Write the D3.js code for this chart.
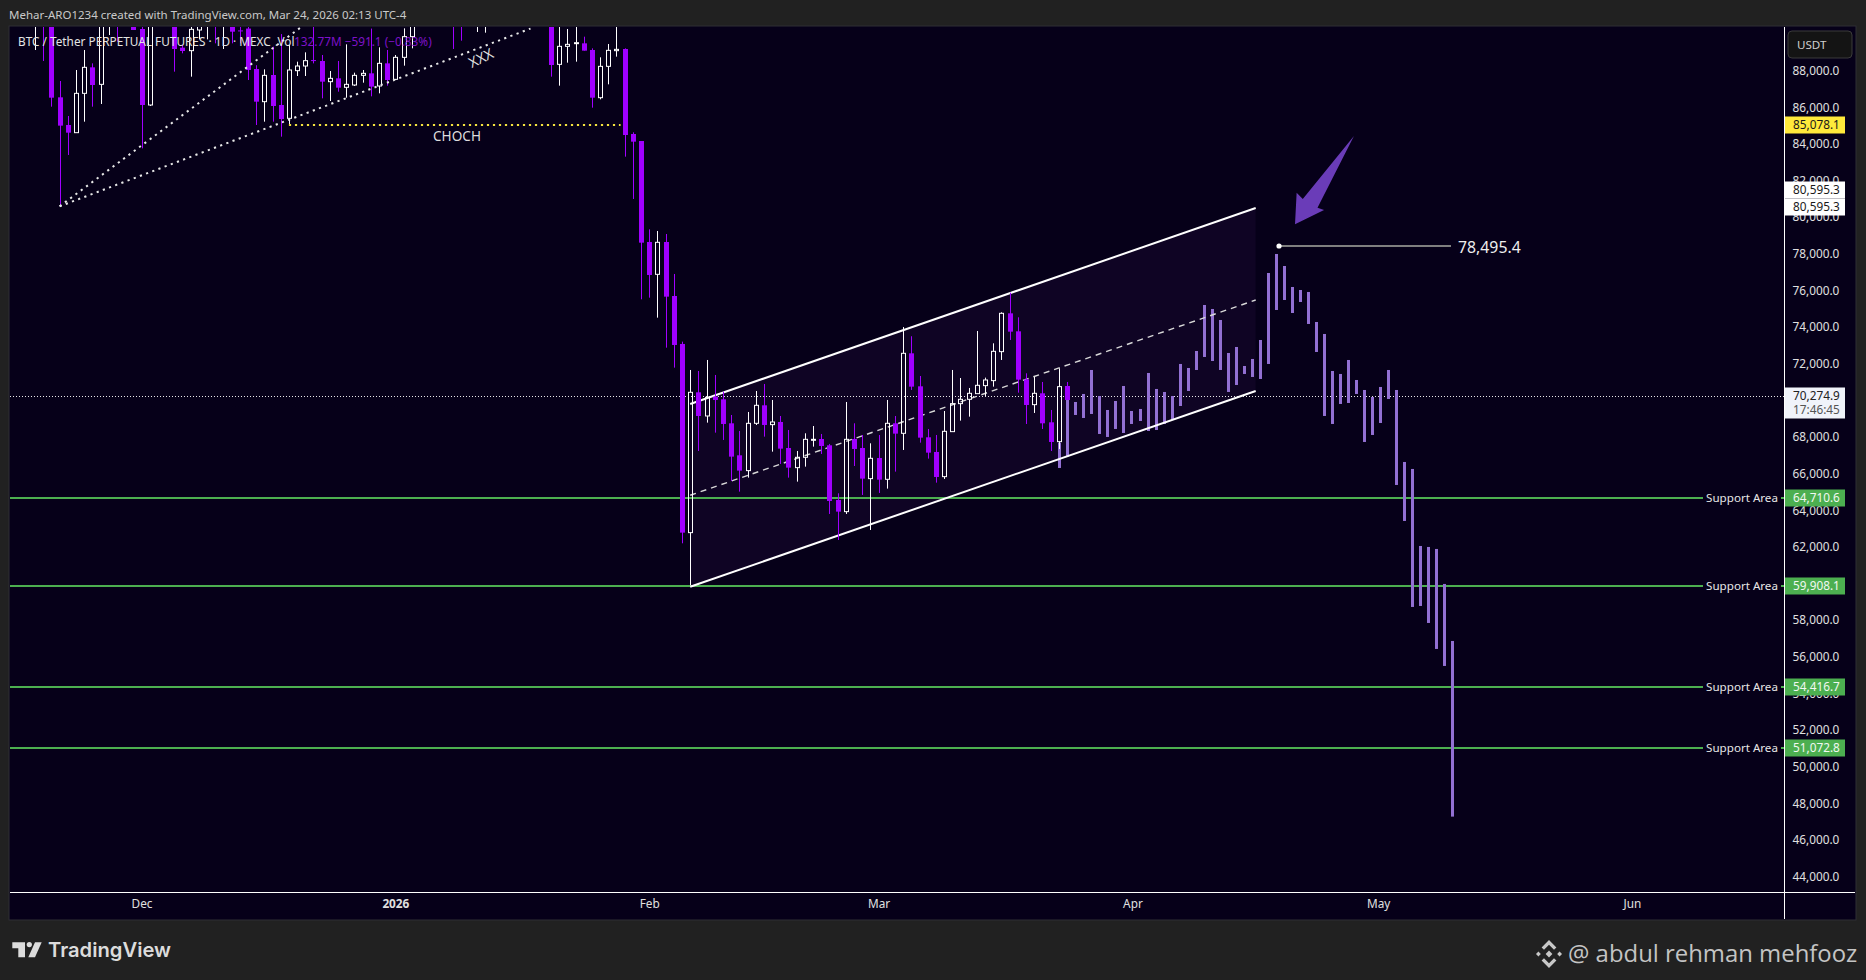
<!DOCTYPE html>
<html>
<head>
<meta charset="utf-8">
<script src="https://cdn.jsdelivr.net/npm/d3@7"></script>
<style>
  html, body { margin: 0; padding: 0; background: #212121; overflow: hidden; }
  svg { display: block; }
  text { font-family: "Noto Sans", sans-serif; }
</style>
</head>
<body>
<div id="chart"></div>
<script>
// Daily candles, first bar is 18 Nov 2025. Bars above the top of the pane are rough guesses.
const firstBar = Date.UTC(2025, 10, 18);
const opens = [91500,92500,91000,86546,85035,84616,86764,88184,87255,91000,92000,91000,91000,
  90277,86127,91400,93000,92000,89257,89094,90222,91000,92000,91000,91000,90200,90300,88093,86309,87765,86127,85399,88002,88256,88580,88529,87401,87583,87092,87219,87747,87856,87164,88402,87528,88730,89858,
  90800,91500,93000,93500,92500,91500,90800,90800,90600,91300,92000,93500,95500,96500,95000,93000,91500,88347,89330,89494,89494,89130,86527,88238,89094,89185,84544,84161,78647,76881,78647,75698,
  73078,62776,70439,69146,70202,70056,68746,66999,66162,68746,69729,68673,68819,67399,66325,66890,67872,67890,67545,64560,63923,67890,67399,65725,66853,65688,68746,68200,72568,70766,67982,67181,
  65834,68291,69820,70056,70366,70803,71076,72659,74752,73769,71148,69765,70384,68801,67745,70784];
const highs = [93000,93500,92000,87437,85526,88038,89130,88402,91800,92000,92300,91500,91500,
  91000,92000,93500,94000,92500,89400,90800,91500,92500,92500,92800,91500,90800,90800,88300,88074,89312,90000,89403,88493,89003,90400,88857,87983,88529,89439,87892,88038,90300,89276,89130,88857,90313,91500,
  92000,93500,94500,94000,93500,92000,92000,92500,91900,92500,94000,96000,97500,97000,95500,93500,92000,90800,90277,90800,89858,89221,88730,89458,90768,89221,84635,84161,79338,79247,79084,76900,
  73205,71658,71603,72204,71385,70475,69201,68327,69365,70511,70894,70020,69146,68382,67235,68200,68600,68164,67618,64924,69911,68746,68109,67654,68109,70020,69146,74000,73500,71330,68437,68109,
  69419,71658,71221,70675,73787,71240,73114,74807,75880,74534,71476,71294,71003,69474,71749,71003];
const lows = [89130,88530,86036,80595,83397,84616,85217,86036,86182,89949,89585,90400,90222,
  83760,86072,90800,91800,87947,88950,87674,89712,89712,89494,89185,89494,89494,87492,85035,85217,85217,84398,85035,87710,87710,88400,86491,86345,86855,86527,87164,87346,86600,86764,87183,87492,88275,89221,
  90600,91000,92500,91000,89185,89640,90500,90113,90076,90900,91500,93000,95000,94500,92500,91200,87674,87183,88438,88493,89094,85981,86436,87255,88766,83306,80995,75516,75607,74515,72877,71785,
  62194,59908,67235,68782,68236,67836,65597,65015,65780,68655,68018,67199,66526,65780,65561,66380,67472,67072,63796,62376,63796,66416,64833,62922,64942,65179,66107,67290,70566,67690,66817,65506,
  65707,68291,68892,69110,70366,70238,70748,72204,73296,70420,68710,69310,68437,67235,67345,70020];
const closes = [92500,91000,86527,85000,84616,86764,88184,87219,91000,91500,91000,90700,90222,
  86127,91400,93000,92000,89185,89075,90258,91000,92000,91000,92000,90130,90168,88038,86309,87747,86072,85362,88038,88256,88548,88530,87401,87583,87073,87255,87747,87856,87128,88402,87492,88730,89858,90800,
  91500,93000,93500,92000,90600,90700,91500,91900,91300,92000,93500,95500,96500,95000,93000,91500,88311,89330,89439,89530,89094,86527,88238,89112,89166,84489,84125,78610,76845,78629,75662,73023,
  62776,70439,69146,70166,70020,68710,66926,66162,68746,69729,68655,68819,67363,66325,66890,67872,67872,67508,64505,63923,67872,67345,65725,66835,65670,68746,68182,72568,70748,67963,67144,65816,
  68309,69820,70056,70384,70821,71112,72677,74752,73751,71130,69747,70384,68746,67727,70748,70020];

// Projected bars drawn after the last candle
const ghostHighs = [67690,70020,69911,70348,71658,70238,69474,69965,70784,69419,69529,71494,70621,70457,70238,71986,71767,72695,75207,74989,74388,72586,72914,71876,72259,
  73296,76954,77992,77336,76190,76026,75917,74279,73624,71603,71440,72204,71112,70566,70184,70730,71658,70566,66635,66253,62048,61994,61885,59974,56861];
const ghostLows = [66307,66926,69201,69037,69256,68164,68000,68437,68218,68710,68873,68327,68382,68710,68928,69692,70511,71658,72368,72149,71658,70457,70839,71440,71276,
  71167,71986,74934,75480,74770,75371,74170,72641,69146,68710,69802,69856,70348,67727,68109,68764,70075,65379,63413,58718,58772,57844,56425,55496,47270];

const priceTicks = d3.range(44000, 88001, 2000);
const monthTicks = [Date.UTC(2025,11,1), Date.UTC(2026,0,1), Date.UTC(2026,1,1), Date.UTC(2026,2,1), Date.UTC(2026,3,1), Date.UTC(2026,4,1), Date.UTC(2026,5,1)];
const monthLabels = ['Dec', '2026', 'Feb', 'Mar', 'Apr', 'May', 'Jun'];

const supportLevels = [64710.6, 59908.1, 54416.7, 51072.8];
const supportLabels = ['64,710.6', '59,908.1', '54,416.7', '51,072.8'];

// Channel, in days after 1 Dec 2025
const channelDays = [67, 136.05];
const channelTop = [69802, 80500];
const channelMid = [64816, 75480];
const channelBottom = [59820, 70512];

const chochDays = [18, 58.5];
const chochPrice = 85078.1;
const lastPrice = 70274.9;
const peakPrice = 78495.4;
const peakDays = [138.9, 159.9];

// Dotted trend lines from the November low: [day, price]
const trendStart = [-10, 80595.3];
const trendEnds = [[19.4, 90350], [47.5, 90300]];

const arrowDays = [148.05, 143.6, 144.4, 140.85, 141.05, 141.8];
const arrowPrices = [84435, 80520, 80394, 79613, 81339, 80995];

const W = 1866, H = 980;
const pane = { left: 10, right: 1855, top: 27, bottom: 919, axisX: 1784.5, axisY: 892.5 };
const frameColor = '#212121', paneColor = '#060019', borderColor = '#2f2e35';
const downColor = '#a000ff', upColor = '#ffffff', ghostColor = '#9270d3', green = '#4caf50';

const svg = d3.select('#chart').append('svg').attr('width', W).attr('height', H);

const x = d3.scaleUtc().domain([monthTicks[0], monthTicks[6]]).range([141.5, 1632]);
const y = d3.scaleLinear().domain([88000, 44000]).range([70.7, 876.5]);
const dayX = d => x(monthTicks[0] + d * 864e5);
const barX = i => Math.round(x(firstBar + i * 864e5)) + 0.5;
const ghostX = d3.scaleLinear().domain([0, ghostHighs.length - 1]).range([1059.3, 1452.3]);
// horizontal levels land about a pixel below the candle grid
const levelY = p => Math.round(y(p) + 0.8);

const candleData = opens.map((open, i) => ({ i, open, high: highs[i], low: lows[i], close: closes[i] }));

// Frame and pane
svg.append('rect').attr('width', W).attr('height', H).attr('fill', frameColor);
svg.append('rect')
    .attr('x', pane.left - 1).attr('y', pane.top - 1)
    .attr('width', pane.right - pane.left + 2).attr('height', pane.bottom - pane.top + 2)
    .attr('fill', paneColor).attr('stroke', borderColor).attr('stroke-width', 1);

svg.append('text')
    .attr('x', 9).attr('y', 15).attr('dy', '0.35em')
    .style('font-size', '11.5px').style('fill', '#c9c9c9')
    .text('Mehar-ARO1234 created with TradingView.com, Mar 24, 2026 02:13 UTC-4');

svg.append('clipPath').attr('id', 'plot-clip').append('rect')
    .attr('x', pane.left).attr('y', pane.top)
    .attr('width', pane.axisX - pane.left).attr('height', pane.axisY - pane.top);

const plot = svg.append('g').attr('clip-path', 'url(#plot-clip)');

// Channel fill
const band = d3.area().x(d => dayX(d.day)).y0(d => y(d.low)).y1(d => y(d.high));
plot.append('path')
    .attr('d', band(channelDays.map((day, i) => ({ day, low: channelBottom[i], high: channelTop[i] }))))
    .attr('fill', '#0f0424');

// Support lines
plot.selectAll('.support')
    .data(supportLevels)
    .enter()
    .append('line')
    .attr('class', 'support')
    .attr('x1', pane.left).attr('x2', 1703)
    .attr('y1', d => levelY(d)).attr('y2', d => levelY(d))
    .attr('stroke', green).attr('stroke-width', 2);

plot.selectAll('.support-end')
    .data(supportLevels)
    .enter()
    .append('line')
    .attr('class', 'support-end')
    .attr('x1', 1781).attr('x2', pane.axisX)
    .attr('y1', d => levelY(d)).attr('y2', d => levelY(d))
    .attr('stroke', green).attr('stroke-width', 2);

plot.selectAll('.support-label')
    .data(supportLevels)
    .enter()
    .append('text')
    .attr('class', 'support-label')
    .attr('x', 1742).attr('y', d => levelY(d)).attr('dy', '0.35em')
    .attr('text-anchor', 'middle')
    .style('font-size', '11.6px').style('fill', '#e6e6e6')
    .text('Support Area');

// Last price line
plot.append('line')
    .attr('x1', pane.left).attr('x2', pane.axisX)
    .attr('y1', levelY(lastPrice) + 0.5).attr('y2', levelY(lastPrice) + 0.5)
    .attr('stroke', '#e8e8e8').attr('stroke-width', 1).attr('stroke-dasharray', '1 2');

// Projected bars
plot.selectAll('.ghost')
    .data(ghostHighs)
    .enter()
    .append('rect')
    .attr('class', 'ghost')
    .attr('x', (d, i) => Math.round(ghostX(i)) - 1)
    .attr('y', d => y(d))
    .attr('width', 3)
    .attr('height', (d, i) => y(ghostLows[i]) - y(d))
    .attr('fill', ghostColor);

// Channel lines
const line = d3.line().x(d => dayX(d[0])).y(d => y(d[1]));
plot.append('path')
    .attr('d', line(channelDays.map((d, i) => [d, channelTop[i]])))
    .attr('stroke', '#fff').attr('stroke-width', 2).attr('fill', 'none');
plot.append('path')
    .attr('d', line(channelDays.map((d, i) => [d, channelBottom[i]])))
    .attr('stroke', '#fff').attr('stroke-width', 2).attr('fill', 'none');
plot.append('path')
    .attr('d', line(channelDays.map((d, i) => [d, channelMid[i]])))
    .attr('stroke', '#d8d8d8').attr('stroke-width', 1.4).attr('stroke-dasharray', '6 5').attr('fill', 'none');

// Candles
const candles = plot.selectAll('.candle')
    .data(candleData)
    .enter()
    .append('g')
    .attr('class', 'candle');

const downCandles = candles.filter(d => d.close < d.open);
const upCandles = candles.filter(d => d.close >= d.open);

downCandles.append('line')
    .attr('x1', d => barX(d.i)).attr('x2', d => barX(d.i))
    .attr('y1', d => y(d.high)).attr('y2', d => y(d.low))
    .attr('stroke', downColor).attr('stroke-width', 1);

downCandles.append('rect')
    .attr('x', d => barX(d.i) - 2.5)
    .attr('y', d => y(d.open))
    .attr('width', 5)
    .attr('height', d => Math.max(1, y(d.close) - y(d.open)))
    .attr('fill', downColor);

// up bars are hollow so lines show through, wick is split in two
upCandles.append('line')
    .attr('x1', d => barX(d.i)).attr('x2', d => barX(d.i))
    .attr('y1', d => y(d.high)).attr('y2', d => y(d.close))
    .attr('stroke', upColor).attr('stroke-width', 1);

upCandles.append('line')
    .attr('x1', d => barX(d.i)).attr('x2', d => barX(d.i))
    .attr('y1', d => y(d.open)).attr('y2', d => y(d.low))
    .attr('stroke', upColor).attr('stroke-width', 1);

upCandles.append('rect')
    .attr('x', d => barX(d.i) - 2)
    .attr('y', d => y(d.close))
    .attr('width', 4)
    .attr('height', d => Math.max(1, y(d.open) - y(d.close)))
    .attr('fill', 'none')
    .attr('stroke', upColor)
    .attr('stroke-width', 1);

// Dotted trend lines and CHOCH
trendEnds.forEach(end => {
    plot.append('path')
        .attr('d', line([trendStart, end]))
        .attr('stroke', '#e8e8e8').attr('stroke-width', 2).attr('stroke-dasharray', '2.2 4.4').attr('fill', 'none');
});

plot.append('line')
    .attr('x1', dayX(chochDays[0])).attr('x2', dayX(chochDays[1]))
    .attr('y1', levelY(chochPrice)).attr('y2', levelY(chochPrice))
    .attr('stroke', '#f3e23f').attr('stroke-width', 2).attr('stroke-dasharray', '2.2 3.8');

plot.append('text')
    .attr('x', 457).attr('y', 136).attr('dy', '0.35em')
    .attr('text-anchor', 'middle')
    .style('font-size', '13.6px').style('fill', '#dddddd')
    .text('CHOCH');

plot.append('text')
    .attr('transform', 'translate(481,58) rotate(-26)')
    .attr('dy', '0.35em')
    .attr('text-anchor', 'middle')
    .style('font-size', '14.5px').style('fill', '#dddddd')
    .text('XXX');

// Arrow and peak callout
plot.append('polygon')
    .attr('points', arrowDays.map((d, i) => `${dayX(d)},${y(arrowPrices[i])}`).join(' '))
    .attr('fill', '#6a3cb8');

plot.append('line')
    .attr('x1', dayX(peakDays[0])).attr('x2', dayX(peakDays[1]))
    .attr('y1', levelY(peakPrice)).attr('y2', levelY(peakPrice))
    .attr('stroke', '#7f7f7f').attr('stroke-width', 2);

plot.append('circle')
    .attr('cx', dayX(peakDays[0])).attr('cy', levelY(peakPrice)).attr('r', 2.6)
    .attr('fill', '#fff');

plot.append('text')
    .attr('x', 1458).attr('y', levelY(peakPrice) + 1).attr('dy', '0.35em')
    .style('font-size', '15.8px').style('fill', '#eeeeee')
    .text(d3.format(',.1f')(peakPrice));

// Legend line sits over the candles
plot.append('text')
    .attr('x', 18).attr('y', 42).attr('dy', '0.35em')
    .style('font-size', '11.8px').style('fill', '#e4e4e4')
    .text('BTC / Tether PERPETUAL FUTURES · 1D · MEXC');
plot.append('text')
    .attr('x', 275).attr('y', 42).attr('dy', '0.35em')
    .style('font-size', '11.8px').style('fill', '#e4e4e4')
    .text('.Vol');
plot.append('text')
    .attr('x', 294).attr('y', 42).attr('dy', '0.35em')
    .style('font-size', '11.8px').style('fill', '#7e12c8')
    .text('132.77M  −591.1 (−0.83%)');

// Axes
const yAxis = svg.append('g')
    .attr('transform', `translate(${pane.axisX},0)`)
    .call(d3.axisRight(y).tickValues(priceTicks).tickFormat(d3.format(',.1f')).tickSize(0).tickPadding(8));
yAxis.select('.domain').remove();
yAxis.selectAll('text').style('font-size', '11.8px').style('font-family', '"Noto Sans", sans-serif').style('fill', '#e0e0e0');

const xAxis = svg.append('g')
    .attr('transform', `translate(0,${pane.axisY})`)
    .call(d3.axisBottom(x).tickValues(monthTicks).tickFormat((d, i) => monthLabels[i]).tickSize(0).tickPadding(7));
xAxis.select('.domain').remove();
xAxis.selectAll('text')
    .style('font-size', '11.8px').style('font-family', '"Noto Sans", sans-serif').style('fill', '#e0e0e0')
    .style('font-weight', (d, i) => monthLabels[i] === '2026' ? 700 : 400);

svg.append('line')
    .attr('x1', pane.left).attr('x2', pane.right)
    .attr('y1', pane.axisY).attr('y2', pane.axisY)
    .attr('stroke', '#fff').attr('stroke-width', 1);
svg.append('line')
    .attr('x1', pane.axisX).attr('x2', pane.axisX)
    .attr('y1', pane.top).attr('y2', pane.bottom)
    .attr('stroke', '#fff').attr('stroke-width', 1);

// Unit box
svg.append('rect')
    .attr('x', 1788).attr('y', 31).attr('width', 64).attr('height', 27).attr('rx', 4)
    .attr('fill', '#141414').attr('stroke', '#3a3a3a');
svg.append('text')
    .attr('x', 1797).attr('y', 45).attr('dy', '0.35em')
    .style('font-size', '11.6px').style('fill', '#cfcfcf')
    .text('USDT');

// Price tags
function priceTag(price, label, bg, fg, offset = 0) {
    const cy = levelY(price) + offset;
    svg.append('rect')
        .attr('x', 1785).attr('y', cy - 8.5).attr('width', 60).attr('height', 17)
        .attr('fill', bg);
    svg.append('text')
        .attr('x', 1793).attr('y', cy).attr('dy', '0.35em')
        .style('font-size', '11.8px').style('fill', fg)
        .text(label);
}

priceTag(chochPrice, '85,078.1', '#ffe93b', '#1a1a1a');
priceTag(80595.3, '80,595.3', '#ffffff', '#1a1a1a', -17);
priceTag(80595.3, '80,595.3', '#ffffff', '#1a1a1a');
supportLevels.forEach((level, i) => priceTag(level, supportLabels[i], green, '#f1f8f1'));

svg.append('rect')
    .attr('x', 1785).attr('y', levelY(lastPrice) - 8.5).attr('width', 60).attr('height', 31)
    .attr('fill', '#f0f3fa');
svg.append('text')
    .attr('x', 1793).attr('y', levelY(lastPrice)).attr('dy', '0.35em')
    .style('font-size', '11.8px').style('fill', '#222')
    .text(d3.format(',.1f')(lastPrice));
svg.append('text')
    .attr('x', 1793).attr('y', levelY(lastPrice) + 14).attr('dy', '0.35em')
    .style('font-size', '11.8px').style('fill', '#555')
    .text('17:46:45');

// Footer
const logo = svg.append('g').attr('fill', '#dcdcdc');
logo.append('path').attr('d', 'M12.3 942.3H25V957.3H18.3V948.3H12.3Z');
logo.append('circle').attr('cx', 29.3).attr('cy', 944.6).attr('r', 2.6);
logo.append('path').attr('d', 'M35 942.3H41.7L35 957.3H28.3Z');
svg.append('text')
    .attr('x', 48).attr('y', 950).attr('dy', '0.35em')
    .style('font-family', 'Inter, sans-serif').style('font-size', '20.2px').style('font-weight', 600)
    .style('fill', '#dcdcdc')
    .text('TradingView');

const mark = svg.append('g').attr('transform', 'translate(1549,954)').attr('fill', '#c8c8c8');
mark.append('path').attr('d', 'M0 -3.4L3.4 0L0 3.4L-3.4 0Z');
mark.append('path').attr('d', 'M-10.6 -2.4L-8.2 0L-10.6 2.4L-13 0Z');
mark.append('path').attr('d', 'M10.6 -2.4L13 0L10.6 2.4L8.2 0Z');
mark.append('path').attr('d', 'M0 -14L7.4 -6.6L5 -4.2L0 -9.2L-5 -4.2L-7.4 -6.6Z');
mark.append('path').attr('d', 'M0 14L7.4 6.6L5 4.2L0 9.2L-5 4.2L-7.4 6.6Z');

svg.append('text')
    .attr('x', 1568).attr('y', 954).attr('dy', '0.35em')
    .style('font-family', '"Open Sans", sans-serif').style('font-size', '23.9px')
    .style('fill', '#c4c4c4')
    .text('@ abdul rehman mehfooz');
</script>
</body>
</html>
